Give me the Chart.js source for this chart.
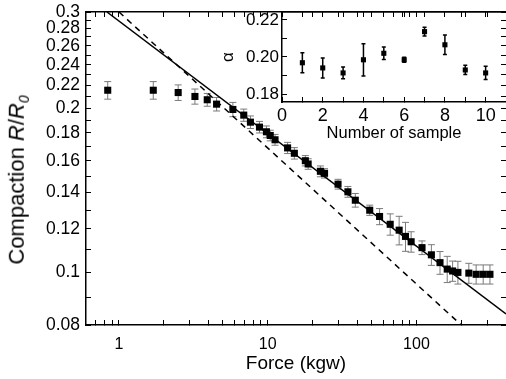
<!DOCTYPE html>
<html>
<head>
<meta charset="utf-8">
<script src="https://cdn.jsdelivr.net/npm/chart.js@4.4.1/dist/chart.umd.min.js"></script>
<style>
  html, body { margin: 0; padding: 0; background: #fff; overflow: hidden; }
  #wrap { position: relative; width: 506px; height: 379px; }
  #main { position: absolute; left: 0; top: 0; }
  #inset { position: absolute; left: 215px; top: 0; }
  #ytitle {
    position: absolute; left: 18px; top: 180px;
    transform: translate(-50%, -50%) rotate(-90deg);
    font: 22px "Liberation Sans", Arial, sans-serif; white-space: nowrap; color: #000;
  }
  #ytitle sub { font-size: 14px; }
</style>
</head>
<body>
<div id="wrap">
  <canvas id="main" width="506" height="379"></canvas>
  <canvas id="inset" width="291" height="145"></canvas>
  <div id="ytitle">Compaction <i>R</i>/<i>R</i><sub><i>0</i></sub></div>
</div>
<script>
// main panel: compaction vs force
const forceKgw = [0.84, 1.70, 2.50, 3.24, 3.92, 4.53, 5.83, 6.90, 7.65, 8.80, 9.80, 10.4, 11.2,
  13.6, 15.1, 17.9, 18.7, 22.6, 24.1, 29.7, 34.6, 38.8, 48.5, 56.5, 66.6, 76.5, 84.4, 92.1,
  109, 126, 144, 161, 175, 190, 225, 252, 281, 312];
const compaction = [0.2156, 0.2156, 0.2135, 0.2100, 0.2071, 0.2033, 0.1988, 0.1941, 0.1884, 0.1845,
  0.1809, 0.1781, 0.1749, 0.1690, 0.1652, 0.1601, 0.1579, 0.1531, 0.1518, 0.1450, 0.1404, 0.1355,
  0.1299, 0.1265, 0.1224, 0.1194, 0.1163, 0.1137, 0.1109, 0.1076, 0.1041, 0.1013, 0.1005, 0.0999,
  0.0996, 0.0991, 0.0991, 0.0991];
const compactionErr = [0.008, 0.008, 0.007, 0.0067, 0.0056, 0.0058, 0.006, 0.005, 0.005, 0.0045,
  0.0045, 0.004, 0.004, 0.004, 0.004, 0.0035, 0.0035, 0.0035, 0.003, 0.003, 0.0032, 0.0039,
  0.0028, 0.0043, 0.0055, 0.0072, 0.0071, 0.0049, 0.0032, 0.0047, 0.005, 0.0056, 0.0043, 0.0048,
  0.0042, 0.004, 0.004, 0.004];

// power-law guide lines (end points)
const fitSolidX = [0.83, 400];
const fitSolidY = [0.300, 0.0838];
const fitDashX  = [1.0, 200];
const fitDashY  = [0.300, 0.080];

const xTickVals   = [0.7, 0.8, 0.9, 1, 2, 3, 4, 5, 6, 7, 8, 9, 10, 20, 30, 40, 50, 60, 70, 80, 90, 100, 200, 300];
const xTickLabels = [1, 10, 100];
const yTickVals   = [0.08, 0.09, 0.1, 0.11, 0.12, 0.13, 0.14, 0.15, 0.16, 0.17, 0.18, 0.19, 0.2,
  0.21, 0.22, 0.23, 0.24, 0.25, 0.26, 0.27, 0.28, 0.29, 0.3];
const yTickLabels = [0.08, 0.1, 0.12, 0.14, 0.16, 0.18, 0.2, 0.22, 0.24, 0.26, 0.28, 0.3];

// inset: exponent per sample
const sampleNo = [1, 2, 3, 4, 5, 6, 7, 8, 9, 10];
const alpha    = [0.1969, 0.1941, 0.1914, 0.1985, 0.2020, 0.1985, 0.2137, 0.2066, 0.1930, 0.1914];
const alphaErr = [0.0054, 0.0054, 0.0032, 0.0087, 0.0034, 0.0014, 0.0024, 0.0053, 0.0025, 0.0036];

const insetXTicks  = [0, 1, 2, 3, 4, 5, 6, 7, 8, 9, 10, 11];
const insetXLabels = [0, 2, 4, 6, 8, 10];
const insetYTicks  = [0.18, 0.19, 0.2, 0.21, 0.22];
const insetYLabels = [0.18, 0.2, 0.22];

const FONT = '"Liberation Sans", Arial, sans-serif';

// error bars drawn under the markers, through the chart's y scale
const errorBars = {
  id: 'errorBars',
  beforeDatasetsDraw(chart) {
    const ctx = chart.ctx;
    chart.data.datasets.forEach((ds, i) => {
      if (!ds.errors) return;
      const meta = chart.getDatasetMeta(i);
      const ys = chart.scales[meta.yAxisID];
      ctx.save();
      ctx.strokeStyle = ds.errorColor;
      ctx.lineWidth = ds.errorWidth;
      meta.data.forEach((pt, j) => {
        const v = ds.data[j].y, e = ds.errors[j];
        const t = ys.getPixelForValue(v + e), b = ys.getPixelForValue(v - e);
        const c = ds.capHalf;
        ctx.beginPath();
        ctx.moveTo(pt.x, t); ctx.lineTo(pt.x, b);
        ctx.moveTo(pt.x - c, t); ctx.lineTo(pt.x + c, t);
        ctx.moveTo(pt.x - c, b); ctx.lineTo(pt.x + c, b);
        ctx.stroke();
      });
      ctx.restore();
    });
  }
};

const pts = (xs, ys) => xs.map((x, i) => ({ x, y: ys[i] }));

// fixed box size for an axis, and no label overhang padding
const fixBox = (w, h) => s => {
  if (w !== null) s.width = w;
  if (h !== null) s.height = h;
  s.paddingTop = s.paddingBottom = s.paddingLeft = s.paddingRight = 0;
};

function axis(extra) {
  return Object.assign({
    grid: { drawOnChartArea: false, tickLength: -5, color: '#000', tickWidth: 1 },
    border: { color: '#000', width: 1.5 }
  }, extra);
}

new Chart(document.getElementById('main'), {
  type: 'scatter',
  data: {
    datasets: [
      {
        data: pts(forceKgw, compaction),
        errors: compactionErr, errorColor: '#7a7a7a', errorWidth: 1, capHalf: 3.5,
        pointStyle: 'rect', pointRadius: 5, backgroundColor: '#000', borderColor: '#000', borderWidth: 0
      },
      {
        data: pts(fitSolidX, fitSolidY), showLine: true, pointRadius: 0,
        borderColor: '#000', borderWidth: 1.5
      },
      {
        data: pts(fitDashX, fitDashY), showLine: true, pointRadius: 0,
        borderColor: '#000', borderWidth: 1.5, borderDash: [6, 5]
      }
    ]
  },
  options: {
    responsive: false,
    animation: false,
    layout: { padding: 0, autoPadding: false },
    plugins: { legend: { display: false }, tooltip: { enabled: false } },
    scales: {
      x: axis({
        type: 'logarithmic', position: 'bottom', min: 0.6, max: 400,
        afterBuildTicks: s => { s.ticks = xTickVals.map(v => ({ value: v })); },
        afterFit: fixBox(null, 54),
        ticks: {
          autoSkip: false, maxRotation: 0, padding: 15, color: '#000', font: { family: FONT, size: 16 },
          callback: v => xTickLabels.includes(v) ? String(v) : ''
        },
        title: { display: true, text: 'Force (kgw)', color: '#000', font: { family: FONT, size: 19 }, padding: { top: 0, bottom: 4 } }
      }),
      xTop: axis({
        type: 'logarithmic', position: 'top', min: 0.6, max: 400,
        afterBuildTicks: s => { s.ticks = xTickVals.map(v => ({ value: v })); },
        afterFit: fixBox(null, 12),
        ticks: { display: false }
      }),
      y: axis({
        type: 'logarithmic', position: 'left', min: 0.08, max: 0.3,
        afterBuildTicks: s => { s.ticks = yTickVals.map(v => ({ value: v })); },
        afterFit: fixBox(86, null),
        ticks: {
          autoSkip: false, padding: 11, color: '#000', font: { family: FONT, size: 17.5 },
          callback: v => yTickLabels.includes(v) ? String(v) : ''
        }
      }),
      yRight: axis({
        type: 'logarithmic', position: 'right', min: 0.08, max: 0.3,
        afterBuildTicks: s => { s.ticks = yTickVals.map(v => ({ value: v })); },
        afterFit: fixBox(0, null),
        ticks: { display: false },
        border: { display: false }
      })
    }
  },
  plugins: [errorBars]
});

new Chart(document.getElementById('inset'), {
  type: 'scatter',
  data: {
    datasets: [{
      data: pts(sampleNo, alpha),
      errors: alphaErr, errorColor: '#000', errorWidth: 1.5, capHalf: 2,
      pointStyle: 'rect', pointRadius: 3.6, backgroundColor: '#000', borderColor: '#000', borderWidth: 0
    }]
  },
  options: {
    responsive: false,
    animation: false,
    layout: { padding: 0, autoPadding: false },
    plugins: { legend: { display: false }, tooltip: { enabled: false } },
    scales: {
      x: axis({
        type: 'linear', position: 'bottom', min: 0, max: 11,
        afterBuildTicks: s => { s.ticks = insetXTicks.map(v => ({ value: v })); },
        afterFit: fixBox(null, 43),
        ticks: {
          autoSkip: false, maxRotation: 0, padding: 8, color: '#000', font: { family: FONT, size: 18 },
          callback: v => insetXLabels.includes(v) ? String(v) : ''
        },
        title: { display: true, text: 'Number of sample', color: '#000', font: { family: FONT, size: 16.5 }, padding: { top: 0, bottom: 2 } }
      }),
      xTop: axis({
        type: 'linear', position: 'top', min: 0, max: 11,
        afterBuildTicks: s => { s.ticks = insetXTicks.map(v => ({ value: v })); },
        afterFit: fixBox(null, 12),
        ticks: { display: false }
      }),
      y: axis({
        type: 'linear', position: 'left', min: 0.1757, max: 0.2243,
        afterBuildTicks: s => { s.ticks = insetYTicks.map(v => ({ value: v })); },
        afterFit: fixBox(67, null),
        ticks: {
          autoSkip: false, padding: 8, color: '#000', font: { family: FONT, size: 17 },
          callback: v => insetYLabels.includes(v) ? v.toFixed(2) : ''
        },
        title: { display: true, text: 'α', color: '#000', font: { family: FONT, size: 17 }, padding: { top: 3, bottom: 0 } }
      })
    }
  },
  plugins: [errorBars]
});
</script>
</body>
</html>
